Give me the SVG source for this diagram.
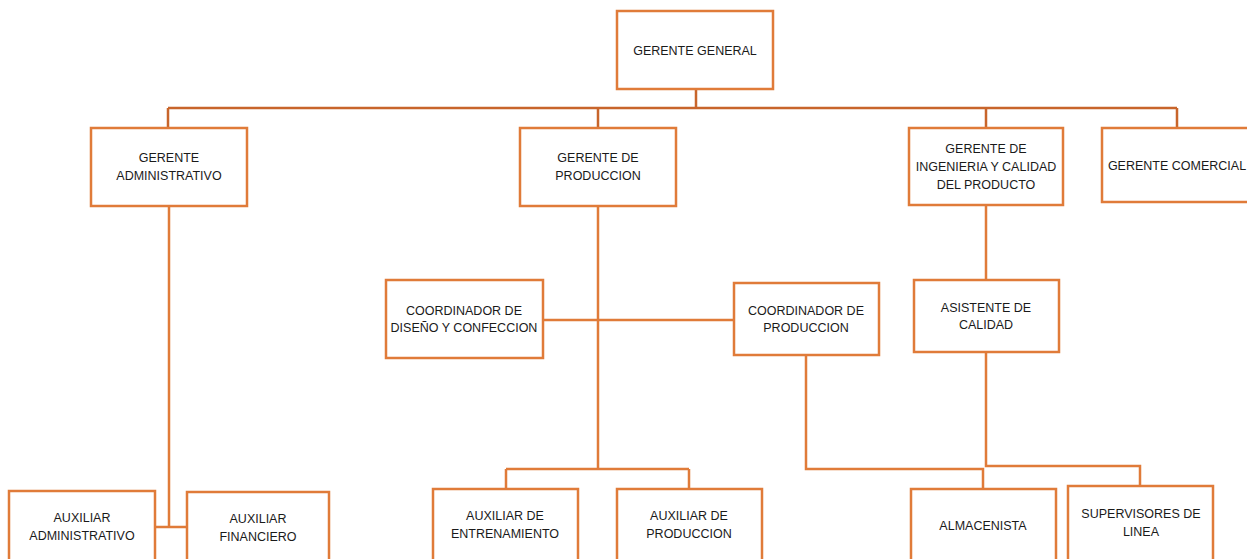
<svg xmlns="http://www.w3.org/2000/svg" width="1247" height="559" viewBox="0 0 1247 559">
<style>
.box{fill:#fff;stroke:#E07B39;stroke-width:2.5}
.ln{fill:none;stroke:#E07B39;stroke-width:2.5}
.top{fill:none;stroke:#C8652B;stroke-width:2.5}
text{font-family:"Liberation Sans",Arial,sans-serif;font-size:12.5px;fill:#1a1a1a;text-anchor:middle}
</style>
<rect width="1247" height="559" fill="#fff"/>
<g id="connectors">
<path class="top" d="M696 89V108M168 108H1177M168 108V128M598 108V128M986 108V128M1177 108V128"/>
<path class="ln" d="M169 206V527M155 527H187"/>
<path class="ln" d="M598 206V469M543 320H734M506 469H689M506 469V489M689 469V489"/>
<path class="ln" d="M986 205V280M986 352V466H1140V486"/>
<path class="ln" d="M806 355V469H983V489"/>
</g>
<g id="gerente-general"><rect class="box" x="617" y="11" width="156" height="78"/><text x="695" y="55">GERENTE GENERAL</text></g>
<g id="gerente-administrativo"><rect class="box" x="91" y="128" width="156" height="78"/><text x="169" y="162">GERENTE</text><text x="169" y="180">ADMINISTRATIVO</text></g>
<g id="gerente-produccion"><rect class="box" x="520" y="128" width="156" height="78"/><text x="598" y="162">GERENTE DE</text><text x="598" y="180">PRODUCCION</text></g>
<g id="gerente-ingenieria"><rect class="box" x="909" y="128" width="154" height="77"/><text x="986" y="153">GERENTE DE</text><text x="986" y="171">INGENIERIA Y CALIDAD</text><text x="986" y="189">DEL PRODUCTO</text></g>
<g id="gerente-comercial"><rect class="box" x="1102" y="128" width="148" height="74"/><text x="1177" y="170">GERENTE COMERCIAL</text></g>
<g id="coordinador-diseno"><rect class="box" x="386" y="280" width="157" height="78"/><text x="464" y="315">COORDINADOR DE</text><text x="464" y="332">DISEÑO Y CONFECCION</text></g>
<g id="coordinador-produccion"><rect class="box" x="734" y="283" width="145" height="72"/><text x="806" y="315">COORDINADOR DE</text><text x="806" y="332">PRODUCCION</text></g>
<g id="asistente-calidad"><rect class="box" x="914" y="280" width="145" height="72"/><text x="986" y="312">ASISTENTE DE</text><text x="986" y="329">CALIDAD</text></g>
<g id="auxiliar-administrativo"><rect class="box" x="9" y="491" width="146" height="72"/><text x="82" y="522">AUXILIAR</text><text x="82" y="540">ADMINISTRATIVO</text></g>
<g id="auxiliar-financiero"><rect class="box" x="187" y="492" width="142" height="72"/><text x="258" y="523">AUXILIAR</text><text x="258" y="541">FINANCIERO</text></g>
<g id="auxiliar-entrenamiento"><rect class="box" x="433" y="489" width="145" height="74"/><text x="505" y="520">AUXILIAR DE</text><text x="505" y="538">ENTRENAMIENTO</text></g>
<g id="auxiliar-produccion"><rect class="box" x="617" y="489" width="145" height="74"/><text x="689" y="520">AUXILIAR DE</text><text x="689" y="538">PRODUCCION</text></g>
<g id="almacenista"><rect class="box" x="911" y="489" width="145" height="74"/><text x="983" y="530">ALMACENISTA</text></g>
<g id="supervisores"><rect class="box" x="1068" y="486" width="145" height="77"/><text x="1141" y="518">SUPERVISORES DE</text><text x="1141" y="536">LINEA</text></g>
</svg>
